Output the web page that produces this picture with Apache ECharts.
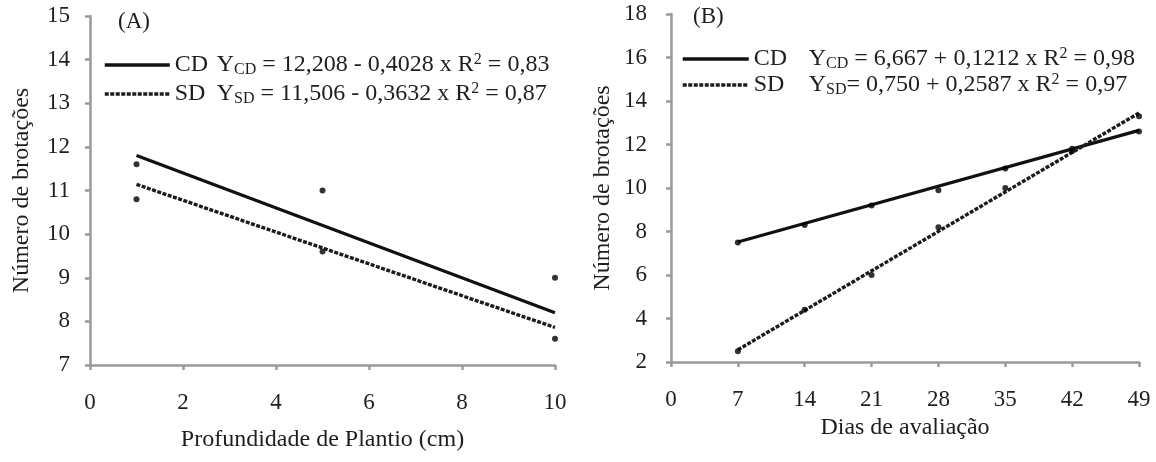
<!DOCTYPE html>
<html>
<head>
<meta charset="utf-8">
<script src="https://cdn.jsdelivr.net/npm/echarts@6/dist/echarts.min.js"></script>
<style>
html,body{margin:0;padding:0;background:#fff;}
#chart{width:1156px;height:462px;}
</style>
</head>
<body>
<div id="chart"></div>
<script>
// Panel A: Profundidade de plantio
const aX = [1, 5, 10];
const aCD = [11.6, 11.0, 9.0];
const aSD = [10.8, 9.6, 7.6];
const aLineX = [1, 10];
const aLineCD = [11.8, 8.2];
const aLineSD = [11.14, 7.86];
const aXTicks = [0, 2, 4, 6, 8, 10];
const aYTicks = [7, 8, 9, 10, 11, 12, 13, 14, 15];

// Panel B: Dias de avaliação
const bX = [7, 14, 21, 28, 35, 42, 49];
const bCD = [7.5, 8.3, 9.2, 9.9, 10.9, 11.8, 12.6];
const bSD = [2.5, 4.4, 6.0, 8.2, 10.0, 11.7, 13.3];
const bLineX = [7, 49];
const bLineCD = [7.52, 12.65];
const bLineSD = [2.56, 13.45];
const bXTicks = [0, 7, 14, 21, 28, 35, 42, 49];
const bYTicks = [2, 4, 6, 8, 10, 12, 14, 16, 18];

const legendA = {
  CD: '{n|CD}{t|Y}{s|CD}{t| = 12,208 - 0,4028 x R}{p|2}{t| = 0,83}',
  SD: '{n|SD}{t|Y}{s|SD}{t| = 11,506 - 0,3632 x R}{p|2}{t| = 0,87}'
};
const legendB = {
  CD: '{m|CD}{t|Y}{s|CD}{t| = 6,667 + 0,1212 x R}{p|2}{t| = 0,98}',
  SD: '{m|SD}{t|Y}{s|SD}{t|= 0,750 + 0,2587 x R}{p|2}{t| = 0,97}'
};

const FONT = 'Liberation Serif';
const TXT = '#1e1e1e';
const AXC = '#9a9a9a';

function pairs(xs, ys) { return xs.map((x, i) => [x, ys[i]]); }

const rich = {
  n: {fontFamily: FONT, fontSize: 24, color: TXT, width: 42, lineHeight: 26},
  m: {fontFamily: FONT, fontSize: 24, color: TXT, width: 55, lineHeight: 26},
  t: {fontFamily: FONT, fontSize: 24, color: TXT, lineHeight: 26},
  s: {fontFamily: FONT, fontSize: 16, color: TXT, verticalAlign: 'bottom', lineHeight: 26},
  p: {fontFamily: FONT, fontSize: 16, color: TXT, verticalAlign: 'top', lineHeight: 26}
};

function xAxis(grid, ticks, name, gap) {
  return {
    type: 'value', gridIndex: grid,
    min: ticks[0], max: ticks[ticks.length - 1], interval: ticks[1] - ticks[0],
    name: name, nameLocation: 'middle', nameGap: gap,
    nameTextStyle: {fontFamily: FONT, fontSize: 24, color: TXT},
    axisLine: {show: true, onZero: false, lineStyle: {color: AXC, width: 2.5}},
    axisTick: {show: true, inside: false, length: 5, lineStyle: {color: AXC, width: 2.5}},
    axisLabel: {fontFamily: FONT, fontSize: 23, color: TXT, margin: 26},
    splitLine: {show: false}
  };
}
function yAxis(grid, ticks, margin) {
  return {
    type: 'value', gridIndex: grid,
    min: ticks[0], max: ticks[ticks.length - 1], interval: ticks[1] - ticks[0],
    name: 'Número de brotações', nameLocation: 'middle', nameGap: 56,
    nameTextStyle: {fontFamily: FONT, fontSize: 24, color: TXT},
    axisLine: {show: true, onZero: false, lineStyle: {color: AXC, width: 2.5}},
    axisTick: {show: true, inside: false, length: 5, lineStyle: {color: AXC, width: 2.5}},
    axisLabel: {fontFamily: FONT, fontSize: 23, color: TXT, margin: margin},
    splitLine: {show: false}
  };
}

const solid = {color: '#111', width: 3.2, type: 'solid'};
const dashed = {color: '#1c1c1c', width: 3.4, type: [4, 1.5]};

function lineSeries(name, xi, yi, data, style) {
  return {
    type: 'line', name: name, xAxisIndex: xi, yAxisIndex: yi,
    data: data, symbol: 'none', showSymbol: false, silent: true,
    lineStyle: style, itemStyle: {color: style.color}, z: 3
  };
}
function dotSeries(name, xi, yi, data) {
  return {
    type: 'scatter', name: name, xAxisIndex: xi, yAxisIndex: yi,
    data: data, symbol: 'circle', symbolSize: 6,
    itemStyle: {color: '#000'}, silent: true, z: 4
  };
}

function legend(left, top, gap, fmt, w) {
  return {
    left: left, top: top, orient: 'vertical', itemWidth: w, itemHeight: 12, itemGap: gap,
    padding: 0, selectedMode: false, data: ['CD', 'SD'],
    itemStyle: {opacity: 0},
    lineStyle: {width: 3.5},
    formatter: n => fmt[n],
    textStyle: {fontFamily: FONT, fontSize: 24, color: TXT, rich: rich}
  };
}

const chart = echarts.init(document.getElementById('chart'), null, {renderer: 'canvas'});
chart.setOption({
  backgroundColor: '#fff',
  animation: false,
  grid: [
    {left: 90, right: 601, top: 16, bottom: 97},
    {left: 671, right: 17, top: 14, bottom: 100}
  ],
  xAxis: [
    xAxis(0, aXTicks, 'Profundidade de Plantio (cm)', 63),
    xAxis(1, bXTicks, 'Dias de avaliação', 53)
  ],
  yAxis: [
    yAxis(0, aYTicks, 20),
    yAxis(1, bYTicks, 24)
  ],
  legend: [
    legend(103, 52, 3, legendA, 65),
    legend(681, 46, 0, legendB, 66)
  ],
  graphic: [
    {type: 'text', left: 118, top: 10, style: {text: '(A)', font: '23px "Liberation Serif"', fill: TXT}},
    {type: 'text', left: 693, top: 5, style: {text: '(B)', font: '23px "Liberation Serif"', fill: TXT}}
  ],
  series: [
    lineSeries('CD', 0, 0, pairs(aLineX, aLineCD), solid),
    lineSeries('SD', 0, 0, pairs(aLineX, aLineSD), dashed),
    dotSeries('A pontos CD', 0, 0, pairs(aX, aCD)),
    dotSeries('A pontos SD', 0, 0, pairs(aX, aSD)),
    lineSeries('CD', 1, 1, pairs(bLineX, bLineCD), solid),
    lineSeries('SD', 1, 1, pairs(bLineX, bLineSD), dashed),
    dotSeries('B pontos CD', 1, 1, pairs(bX, bCD)),
    dotSeries('B pontos SD', 1, 1, pairs(bX, bSD))
  ]
});
</script>
</body>
</html>
